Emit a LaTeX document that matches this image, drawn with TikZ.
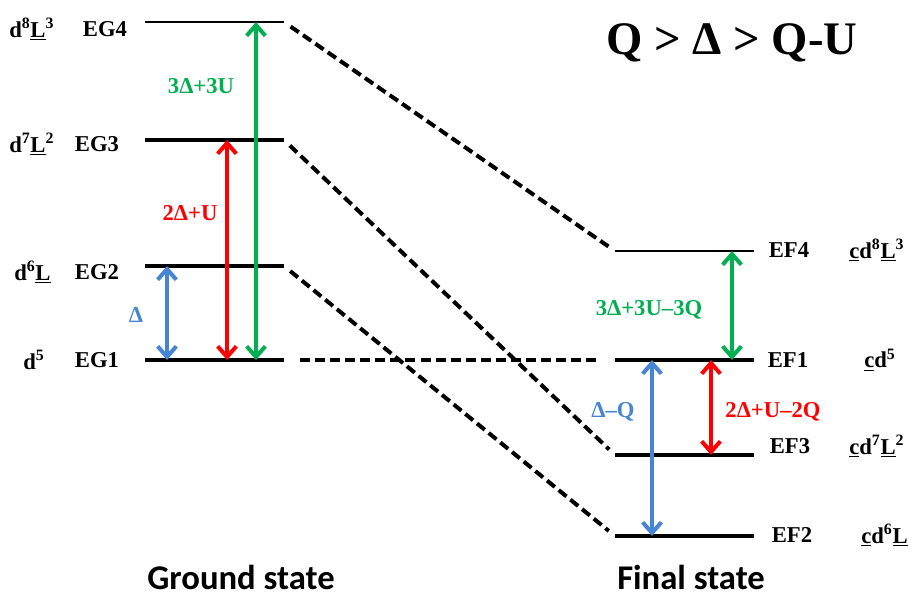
\documentclass[tikz,border=0pt]{standalone}
\usepackage{fontspec}
\setmainfont{Liberation Serif}
\newfontfamily\calfont{Carlito}
\usetikzlibrary{arrows.meta,positioning}

\begin{document}
\begin{tikzpicture}[
        x=0.75pt, y=-0.75pt,
    every node/.style={font=\bfseries\fontsize{17}{19}\selectfont, inner sep=0pt},
    lvl/.style={line width=3pt},
    thinlvl/.style={line width=1.5pt},
    link/.style={line width=3pt, dash pattern=on 7.5pt off 3.8pt, shorten <=6pt, shorten >=6pt},
    gap/.style={line width=3pt, {Straight Barb[length=8pt,width=14pt]}-{Straight Barb[length=8pt,width=14pt]}}
]
    \colorlet{rex}{red}
    \definecolor{grx}{RGB}{0,176,80}
    \definecolor{blx}{RGB}{70,132,214}

    \useasboundingbox (0,0) rectangle (912,604);

    % ground state levels
    \coordinate (eg4a) at (145,22);  \coordinate (eg4b) at (284,22);
    \coordinate (eg3a) at (145,140); \coordinate (eg3b) at (284,140);
    \coordinate (eg2a) at (145,266); \coordinate (eg2b) at (284,266);
    \coordinate (eg1a) at (145,360); \coordinate (eg1b) at (284,360);
    % final state levels
    \coordinate (ef4a) at (615,251); \coordinate (ef4b) at (754,251);
    \coordinate (ef1a) at (615,360); \coordinate (ef1b) at (754,360);
    \coordinate (ef3a) at (615,455); \coordinate (ef3b) at (754,455);
    \coordinate (ef2a) at (615,536); \coordinate (ef2b) at (754,536);

    \draw [thinlvl] (eg4a) -- (eg4b);
    \draw [lvl] (eg3a) -- (eg3b);
    \draw [lvl] (eg2a) -- (eg2b);
    \draw [lvl] (eg1a) -- (eg1b);
    \draw [thinlvl] (ef4a) -- (ef4b);
    \draw [lvl] (ef1a) -- (ef1b);
    \draw [lvl] (ef3a) -- (ef3b);
    \draw [lvl] (ef2a) -- (ef2b);

    % correlation lines
    \draw [link] (eg4b) -- (ef4a);
    \draw [link] (eg3b) -- (ef3a);
    \draw [link] (eg2b) -- (ef2a);
    \draw [link, shorten <=12pt, shorten >=11pt] (eg1b) -- (ef1a);

    % labels
    \node (eg4) at (105,29) {EG4};
    \node (eg3) at (97,144) {EG3};
    \node (eg2) at (97,272) {EG2};
    \node (eg1) at (97,360) {EG1};
    \node [anchor=west] (cg4) at (9,29) {d\textsuperscript{8}\underline{L}\textsuperscript{3}};
    \node [anchor=west] (cg3) at (9,144) {d\textsuperscript{7}\underline{L}\textsuperscript{2}};
    \node [anchor=west] (cg2) at (14,272) {d\textsuperscript{6}\underline{L}};
    \node [anchor=west] (cg1) at (23,360) {d\textsuperscript{5}};

    \node (ef4) at (789,250) {EF4};
    \node (ef1) at (788,360) {EF1};
    \node (ef3) at (790,446) {EF3};
    \node (ef2) at (792,535) {EF2};
    \node [anchor=west] (cf4) at (849,250) {\underline{c}d\textsuperscript{8}\underline{L}\textsuperscript{3}};
    \node [anchor=west] (cf1) at (864,360) {\underline{c}d\textsuperscript{5}};
    \node [anchor=west] (cf3) at (849,446) {\underline{c}d\textsuperscript{7}\underline{L}\textsuperscript{2}};
    \node [anchor=west] (cf2) at (861,535) {\underline{c}d\textsuperscript{6}\underline{L}};

    % energy gaps
    \coordinate (xd) at (167,0);
    \coordinate (xu) at (227,0);
    \coordinate (xt) at (256,0);
    \coordinate (xdq) at (652,0);
    \coordinate (xuq) at (711,0);
    \coordinate (xtq) at (732,0);

    \draw [gap, blx] (xd |- eg2a) -- (xd |- eg1a);
    \draw [gap, rex] (xu |- eg3a) -- (xu |- eg1a);
    \draw [gap, grx] (xt |- eg4a) -- (xt |- eg1a);
    \draw [gap, grx] (xtq |- ef4a) -- (xtq |- ef1a);
    \draw [gap, blx] (xdq |- ef1a) -- (xdq |- ef2a);
    \draw [gap, rex] (xuq |- ef1a) -- (xuq |- ef3a);

    \node [blx] (td) at (136,315) {Δ};
    \node [rex] (tu) at (190,213) {2Δ+U};
    \node [grx] (tt) at (201,86) {3Δ+3U};
    \node [grx] (ttq) at (649,310) {3Δ+3U–3Q};
    \node [blx] (tdq) at (613,412) {Δ–Q};
    \node [rex] (tuq) at (773,412) {2Δ+U–2Q};

    \node [font=\bfseries\fontsize{35}{40}\selectfont] (rel) at (732,43) {Q > Δ > Q-U};
    \node [font=\calfont\bfseries\fontsize{26}{30}\selectfont] (gs) at (241,577) {Ground state};
    \node [font=\calfont\bfseries\fontsize{26}{30}\selectfont] (fs) at (691,577) {Final state};
\end{tikzpicture}
\end{document}
